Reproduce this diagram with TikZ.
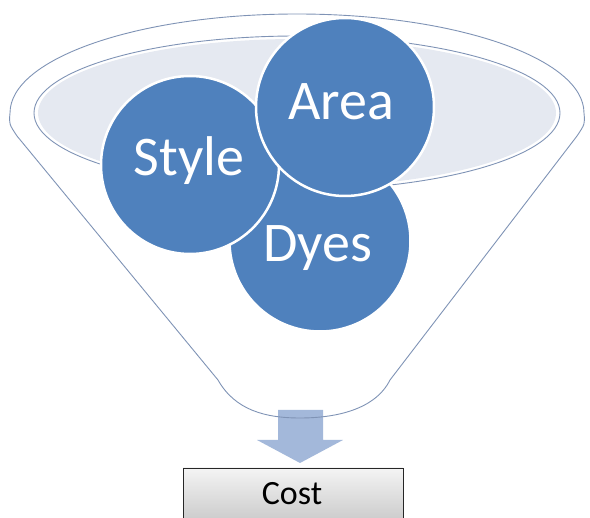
\documentclass[tikz,border=0pt]{standalone}
\usepackage{fontspec}
\setmainfont{Carlito}
\begin{document}
\begin{tikzpicture}[x=1pt,y=-1pt,
  funnelline/.style={draw=funnelc, line width=0.9pt},
  blob/.style={circle, fill=blobc, draw=white, line width=2.5pt, minimum size=#1, inner sep=0pt},
  blobtext/.style={text=white, font=\fontsize{56}{60}\selectfont, anchor=base}]
\definecolor{funnelc}{HTML}{7F93B5}
\definecolor{innerc}{HTML}{E5E9F1}
\definecolor{blobc}{HTML}{4F81BD}
\definecolor{arrowc}{HTML}{A3B8DA}
\definecolor{boxtop}{HTML}{F4F4F4}
\definecolor{boxbot}{HTML}{C4C4C4}
\useasboundingbox (0,0) rectangle (590,518);
\clip (0,0) rectangle (590,518);
% arrow
\fill[arrowc] (278,410) -- (323,410) -- (323,440) -- (343,440) -- (300,463) -- (257,440) -- (278,440) -- cycle;
% funnel outline
\draw[funnelline] (10,113) arc[start angle=180, end angle=360, x radius=287, y radius=99]
  .. controls (585,124) .. (577,136) -- (390,380)
  .. controls (375,410) and (335,418) .. (300,418)
  .. controls (265,418) and (235,410) .. (218,380)
  -- (17,136) .. controls (9,124) .. (10,113) -- cycle;
% inner ellipse
\fill[innerc] (297,113) ellipse[x radius=259, y radius=74];
\draw[funnelline] (297,113) ellipse[x radius=263, y radius=77];
% circles
\node[blob=181pt] (dyes) at (320,241) {};
\node[blob=178pt] (style) at (190,165) {};
\node[blob=178pt] (area) at (345,107) {};
\node[blobtext] (areat) at (341,120) {Area};
\node[blobtext] (stylet) at (189,176) {Style};
\node[blobtext] (dyest) at (318,262) {Dyes};
% cost box
\shade[top color=boxtop, bottom color=boxbot] (183,468) rectangle (403,530);
\draw[draw=black!85, line width=0.9pt] (183,530) -- (183,468) -- (403,468) -- (403,530);
\node[font=\fontsize{34}{38}\selectfont, anchor=base] (cost) at (292,505) {Cost};
\end{tikzpicture}
\end{document}
